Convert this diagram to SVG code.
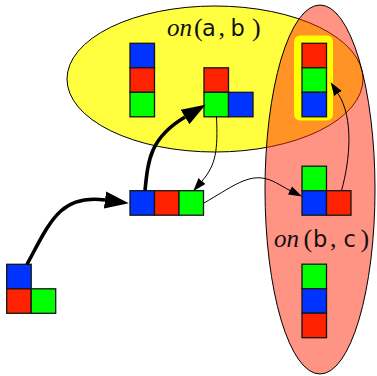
<svg xmlns="http://www.w3.org/2000/svg" width="377" height="376" viewBox="0 0 377 376">
<defs>
<style>
.blk{stroke:#151515;stroke-width:1.3}
.b{fill:#0033ff}.r{fill:#ff2200}.g{fill:#00ff00}
.edge{fill:none;stroke:#000}
.thick{stroke-width:3.6}
.thin{stroke-width:1}
.lbl{font-family:"Liberation Serif",serif;font-size:26px;fill:#111}
.it{font-style:italic;font-size:25px}
.sf{font-family:"DejaVu Sans",sans-serif;font-size:22.5px}
</style>
<marker id="bigArrow" markerUnits="userSpaceOnUse" markerWidth="26" markerHeight="18" refX="0" refY="8.5" orient="auto" viewBox="0 0 26 17">
<path d="M0,0 L24,8.5 L0,17 Z" fill="#000"/>
</marker>
<marker id="smallArrow" markerUnits="userSpaceOnUse" markerWidth="14" markerHeight="10" refX="0" refY="4.5" orient="auto" viewBox="0 0 14 9">
<path d="M0,0 L13.5,4.5 L0,9 Z" fill="#000"/>
</marker>
</defs>
<g id="set-on-a-b">
<ellipse cx="215" cy="79" rx="148" ry="73" fill="#ffff40" stroke="#000" stroke-width="1"/>
<text class="lbl" y="36"><tspan class="it" x="167">on</tspan><tspan x="194">(</tspan><tspan class="sf" x="202">a</tspan><tspan x="218.5">,</tspan><tspan class="sf" x="230.5">b</tspan><tspan x="252">)</tspan></text>
</g>
<g id="set-on-b-c">
<ellipse cx="320" cy="189.5" rx="55" ry="184.5" fill="#ff280a" fill-opacity="0.5" stroke="#000" stroke-width="1"/>
<text class="lbl" y="246.7"><tspan class="it" x="274">on</tspan><tspan x="303.5">(</tspan><tspan class="sf" x="313">b</tspan><tspan x="330">,</tspan><tspan class="sf" x="343.5">c</tspan><tspan x="360.5">)</tspan></text>
</g>
<g id="state-tower-brg">
<rect class="blk b" x="130" y="43.3" width="24.5" height="24.5"/>
<rect class="blk r" x="130" y="67.8" width="24.5" height="24.5"/>
<rect class="blk g" x="130" y="92.3" width="24.5" height="24.5"/>
</g>
<g id="state-L-rg-b">
<rect class="blk r" x="204" y="67.8" width="24.5" height="24.5"/>
<rect class="blk g" x="204" y="92.3" width="24.5" height="24.5"/>
<rect class="blk b" x="228.5" y="92.3" width="24.5" height="24.5"/>
</g>
<g id="state-goal-rgb">
<rect x="294" y="35.5" width="39" height="85" rx="6" fill="#ffff00"/>
<rect class="blk r" x="302" y="43.3" width="24.5" height="24.5"/>
<rect class="blk g" x="302" y="67.8" width="24.5" height="24.5"/>
<rect class="blk b" x="302" y="92.3" width="24.5" height="24.5"/>
</g>
<g id="state-row-brg">
<rect class="blk b" x="130" y="190.7" width="24.5" height="24.5"/>
<rect class="blk r" x="154.5" y="190.7" width="24.5" height="24.5"/>
<rect class="blk g" x="179" y="190.7" width="24.5" height="24.5"/>
</g>
<g id="state-L-gb-r">
<rect class="blk g" x="302" y="166.2" width="24.5" height="24.5"/>
<rect class="blk b" x="302" y="190.7" width="24.5" height="24.5"/>
<rect class="blk r" x="326.5" y="190.7" width="24.5" height="24.5"/>
</g>
<g id="state-tower-gbr">
<rect class="blk g" x="302" y="264.2" width="24.5" height="24.5"/>
<rect class="blk b" x="302" y="288.7" width="24.5" height="24.5"/>
<rect class="blk r" x="302" y="313.2" width="24.5" height="24.5"/>
</g>
<g id="state-start">
<rect class="blk b" x="6.7" y="264.3" width="24.5" height="24.5"/>
<rect class="blk r" x="6.7" y="288.8" width="24.5" height="24.5"/>
<rect class="blk g" x="31.2" y="288.8" width="24.5" height="24.5"/>
</g>
<g id="connectors">
<path class="edge thick" d="M27,264.3 C50,222 60,194 105,200" marker-end="url(#bigArrow)"/>
<path class="edge thick" d="M145,190.7 C148,160 150,138 185,117" marker-end="url(#bigArrow)"/>
<path class="edge thin" d="M216.5,116.8 C218,150 216,165 202,181" marker-end="url(#smallArrow)"/>
<path class="edge thin" d="M204,203 C230,188 245,176 262,178 C272,179 281,186 290,190.5" marker-end="url(#smallArrow)"/>
<path class="edge thin" d="M341.5,190.7 C350,160 354,118 338,93.5" marker-end="url(#smallArrow)"/>
</g>
</svg>
